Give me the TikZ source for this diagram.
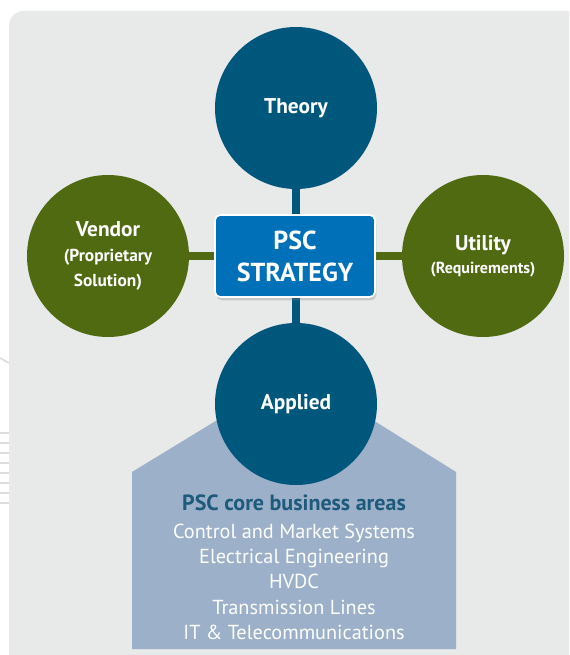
\documentclass[tikz,border=0pt]{standalone}
\usepackage{fontspec}
\setmainfont{PT Sans}
\usepackage{tikz}
\usetikzlibrary{shadows}
\definecolor{panelgray}{HTML}{E8E9E9}
\definecolor{edgegray}{HTML}{DCDCDC}
\definecolor{pscteal}{HTML}{00577C}
\definecolor{pscgreen}{HTML}{506A12}
\definecolor{pscblue}{HTML}{0071B8}
\definecolor{areablue}{HTML}{9CB0C9}
\definecolor{areatitle}{HTML}{1E5A7C}

\begin{document}
\begin{tikzpicture}[x=0.75pt,y=0.75pt,yscale=-1,xscale=1,
    roundnode/.style={circle,minimum size=121.5pt,inner sep=0pt,text=white,align=center,
        font=\fontsize{13}{19}\selectfont\bfseries},
    strategybox/.style={rectangle,rounded corners=4pt,draw=white,line width=1.2pt,fill=pscblue,
        minimum width=120pt,minimum height=61.5pt,text=white,align=center,
        font=\fontsize{19.5}{24}\selectfont\bfseries,
        drop shadow={opacity=0.3,shadow xshift=1pt,shadow yshift=-2.5pt}},
    linkline/.style={line width=6.5pt}]
        \useasboundingbox (0,0) rectangle (569,655);
        %Shape: Panel
        \begin{scope}
            \clip (0,0) rectangle (569,655);
            \fill [panelgray,rounded corners=11pt] (9,11) rectangle (600,690);
        \end{scope}
        %Straight Lines: edge marks
        \draw [edgegray,line width=1.2pt] (0,358) -- (9,363);
        \foreach \y in {433,443,...,503}
            \draw [edgegray,line width=1.2pt] (0,\y) -- (9,\y);
        %Shape: Areas panel
        \fill [areablue] (132,649) -- (132,472) -- (296,372) -- (456,472) -- (456,649) -- cycle;
        % Text Node
        \node [align=center,text=white,font=\fontsize{15.2}{19}\selectfont] (areas) at (294,567)
            {{\color{areatitle}\fontsize{16.5}{19}\selectfont\bfseries PSC core business areas}\\[2pt]
             Control and Market Systems\\Electrical Engineering\\HVDC\\Transmission Lines\\
             IT \& Telecommunications};
        %Shape: Circles
        \node [roundnode,fill=pscteal] (theory) at (296,108) {\fontsize{16}{19}\selectfont Theory};
        \node [roundnode,fill=pscgreen] (vendor) at (108,256)
            {{\fontsize{16}{19}\selectfont Vendor}\\(Proprietary\\Solution)};
        \node [roundnode,fill=pscgreen,font=\fontsize{12}{17}\selectfont\bfseries] (utility) at (483,256)
            {{\fontsize{16}{19}\selectfont Utility}\\(Requirements)};
        \node [roundnode,fill=pscteal] (applied) at (296,404) {\fontsize{16}{19}\selectfont Applied};
        %Straight Lines
        \draw [linkline,pscteal] (theory) -- (applied);
        \draw [linkline,pscgreen] (vendor) -- (utility);
        %Shape: Strategy box
        \node [strategybox] (strategy) at (295,256) {PSC\\STRATEGY};
\end{tikzpicture}
\end{document}
